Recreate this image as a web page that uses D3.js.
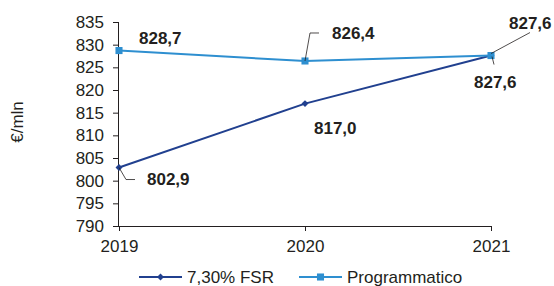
<!DOCTYPE html>
<html>
<head>
<meta charset="utf-8">
<script src="https://cdn.jsdelivr.net/npm/d3@7"></script>
<style>
  body { margin: 0; background: #fff; }
  text { font-family: "Liberation Sans", Arial, sans-serif; fill: #231f20; }
</style>
</head>
<body>
<div id="chart"></div>
<script>
// data
const years = ["2019", "2020", "2021"];
const fsrValues = [802.9, 817.0, 827.6];
const progValues = [828.7, 826.4, 827.6];
const yTicks = [790, 795, 800, 805, 810, 815, 820, 825, 830, 835];
const seriesNames = ["7,30% FSR", "Programmatico"];

const W = 554, H = 286;
const fsrColor = "#21408f", progColor = "#2e8fd0";

const svg = d3.select("#chart").append("svg")
  .attr("width", W).attr("height", H);

const x = d3.scalePoint().domain(years).range([119, 491]);
const y = d3.scaleLinear().domain([790, 835]).range([226, 22]);

const fmt = v => d3.format(".1f")(v).replace(".", ",");

// y axis
const yAxis = svg.append("g")
  .attr("transform", "translate(119,0)")
  .call(d3.axisLeft(y).tickValues(yTicks).tickSize(6).tickPadding(9).tickFormat(d3.format("d")));
yAxis.select(".domain").attr("d", "M-0.5,22V226.5").attr("stroke", "#231f20");
yAxis.selectAll("line").attr("stroke", "#231f20");
yAxis.selectAll("text").attr("font-size", 17).attr("fill", "#231f20");

// x axis
const xAxis = svg.append("g")
  .attr("transform", "translate(0,226)")
  .call(d3.axisBottom(x).tickSize(5).tickPadding(9));
xAxis.select(".domain").attr("d", "M119,0.5H491").attr("stroke", "#231f20");
xAxis.selectAll("line").attr("stroke", "#231f20");
xAxis.selectAll("text").attr("font-size", 17).attr("fill", "#231f20");

// y title
svg.append("text")
  .attr("transform", "translate(23,122) rotate(-90)")
  .attr("text-anchor", "middle")
  .attr("font-size", 17)
  .text("€/mln");

const line = d3.line().x((d, i) => x(years[i])).y(d => y(d));

// marker: square, or square turned 45° for the diamond
function markerPath(kind) {
  return kind === "square"
    ? d3.symbol().type(d3.symbolSquare).size(50)()
    : d3.symbol().type(d3.symbolSquare).size(24)();
}
function markerRot(kind) { return kind === "square" ? "" : " rotate(45)"; }

function drawSeries(values, color, kind) {
  svg.append("path")
    .datum(values)
    .attr("d", line)
    .attr("fill", "none")
    .attr("stroke", color)
    .attr("stroke-width", 2);
  svg.selectAll(null).data(values).enter().append("path")
    .attr("d", markerPath(kind))
    .attr("transform", (d, i) => `translate(${x(years[i])},${y(d)})` + markerRot(kind))
    .attr("fill", color);
}

drawSeries(fsrValues, fsrColor, "diamond");
drawSeries(progValues, progColor, "square");

// data labels: offsets from their point, plus leader line points
const labels = [
  { v: progValues[0], px: x(years[0]), py: y(progValues[0]), dx: 20, dy: -7, lead: null },
  { v: progValues[1], px: x(years[1]), py: y(progValues[1]), dx: 27, dy: -22, lead: [[0, 0], [5, -28], [14, -28]] },
  { v: progValues[2], px: x(years[2]), py: y(progValues[2]), dx: 18, dy: -27, lead: [[0, -2], [39, -23]] },
  { v: fsrValues[2], px: x(years[2]), py: y(fsrValues[2]), dx: -17, dy: 32, lead: [[1, 1], [3, 9]] },
  { v: fsrValues[1], px: x(years[1]), py: y(fsrValues[1]), dx: 9, dy: 30, lead: null },
  { v: fsrValues[0], px: x(years[0]), py: y(fsrValues[0]), dx: 28, dy: 17.5, lead: [[0, 0], [7, 12], [16, 12]] }
];

labels.forEach(l => {
  if (l.lead) {
    svg.append("path")
      .attr("d", d3.line()(l.lead.map(p => [l.px + p[0], l.py + p[1]])))
      .attr("fill", "none")
      .attr("stroke", "#231f20")
      .attr("stroke-width", 0.8);
  }
  svg.append("text")
    .attr("x", l.px + l.dx)
    .attr("y", l.py + l.dy)
    .attr("font-size", 17)
    .attr("font-weight", "bold")
    .text(fmt(l.v));
});

// legend
const legend = svg.append("g").attr("transform", "translate(0,277)");
const legendItems = [
  { name: seriesNames[0], color: fsrColor, kind: "diamond", x0: 139 },
  { name: seriesNames[1], color: progColor, kind: "square", x0: 299 }
];
legendItems.forEach(it => {
  legend.append("line")
    .attr("x1", it.x0).attr("x2", it.x0 + 43)
    .attr("stroke", it.color).attr("stroke-width", 2);
  legend.append("path")
    .attr("d", markerPath(it.kind))
    .attr("transform", `translate(${it.x0 + 21.5},0)` + markerRot(it.kind))
    .attr("fill", it.color);
  legend.append("text")
    .attr("x", it.x0 + 48).attr("y", 6)
    .attr("font-size", 17)
    .text(it.name);
});
</script>
</body>
</html>
